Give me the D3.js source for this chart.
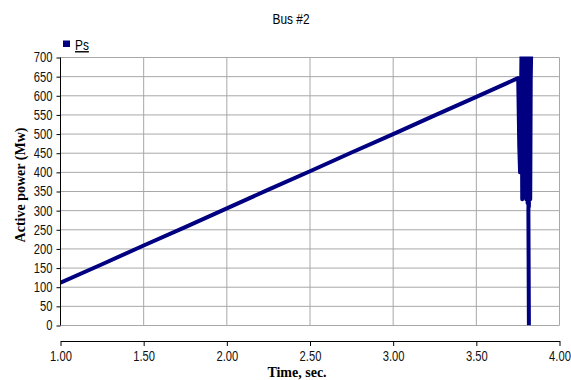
<!DOCTYPE html>
<html>
<head>
<meta charset="utf-8">
<script src="https://cdn.jsdelivr.net/npm/d3@7"></script>
<style>
  body { margin: 0; background: #fff; }
  .tick text { font-family: "Liberation Sans", Arial, sans-serif; font-size: 14px; fill: #111; }
</style>
</head>
<body>
<svg width="571" height="380"></svg>
<script>
let svg = d3.select("svg");
let squeeze = 0.8; // the source uses a narrow sans for its labels

// Ps signal, time in seconds, active power in MW
let time = [1.00, 1.25, 1.50, 1.75, 2.00, 2.25, 2.50, 2.75, 3.00, 3.25, 3.50, 3.75,
  3.752, 3.758, 3.763, 3.768, 3.772, 3.776, 3.780, 3.784, 3.788, 3.792, 3.796, 3.800,
  3.804, 3.808, 3.812, 3.816, 3.820, 3.824, 3.828, 3.830, 3.813, 3.816];
let power = [112, 160, 209, 257, 306, 355, 403, 452, 500, 549, 597, 646,
  640, 470, 400, 560, 740, 330, 745, 420, 750, 380, 750, 330,
  750, 320, 750, 310, 750, 330, 750, 720, 300, 0];

let xTicks = [1.0, 1.5, 2.0, 2.5, 3.0, 3.5, 4.0];
let yTicks = [0, 50, 100, 150, 200, 250, 300, 350, 400, 450, 500, 550, 600, 650, 700];

let x = d3.scaleLinear().domain([1, 4]).range([60.5, 559.5]);
let y = d3.scaleLinear().domain([0, 700]).range([325.5, 57.5]);

// grid
svg.append("g")
  .selectAll("line")
  .data(yTicks)
  .enter()
  .append("line")
  .attr("x1", x(1))
  .attr("x2", x(4))
  .attr("y1", d => y(d))
  .attr("y2", d => y(d))
  .attr("stroke", "#a8a8a8")
  .attr("stroke-width", 1);

svg.append("g")
  .selectAll("line")
  .data(xTicks.slice(1))
  .enter()
  .append("line")
  .attr("x1", d => x(d))
  .attr("x2", d => x(d))
  .attr("y1", y(0))
  .attr("y2", y(700))
  .attr("stroke", "#a8a8a8")
  .attr("stroke-width", 1);

// series
svg.append("clipPath")
  .attr("id", "plot")
  .append("rect")
  .attr("x", x(1))
  .attr("y", y(700) - 1)
  .attr("width", x(4) - x(1))
  .attr("height", y(0) - y(700) + 1);

let pts = time.map((t, i) => [t, power[i]]);
svg.append("path")
  .datum(pts)
  .attr("clip-path", "url(#plot)")
  .attr("fill", "none")
  .attr("stroke", "#000080")
  .attr("stroke-width", 4)
  .attr("stroke-linejoin", "round")
  .attr("d", d3.line().x(d => x(d[0])).y(d => y(d[1])));

// axes
svg.append("g")
  .attr("transform", "translate(" + x(1) + ",0)")
  .call(d3.axisLeft(y).tickValues(yTicks).tickSize(4).tickPadding(4).tickFormat(d3.format("d")))
  .call(g => g.select(".domain").attr("d", "M0," + y(700) + "V" + y(0)))
  .call(g => g.selectAll(".tick text").attr("x", -8 / squeeze).attr("transform", "scale(" + squeeze + ",1)"));

svg.append("g")
  .attr("transform", "translate(0,341)")
  .call(d3.axisBottom(x).tickValues(xTicks).tickSize(5).tickSizeOuter(0).tickPadding(5).tickFormat(d3.format(".2f")))
  .call(g => g.selectAll(".tick text").attr("transform", "scale(" + squeeze + ",1)"));

// texts
svg.append("text")
  .attr("transform", "translate(291,24) scale(0.85,1)")
  .attr("text-anchor", "middle")
  .style("font-family", "'Liberation Sans', Arial, sans-serif")
  .style("font-size", "14px")
  .text("Bus #2");

svg.append("text")
  .attr("x", 297)
  .attr("y", 377)
  .attr("text-anchor", "middle")
  .style("font-family", "'Liberation Serif', 'Times New Roman', serif")
  .style("font-weight", "bold")
  .style("font-size", "14px")
  .text("Time, sec.");

svg.append("text")
  .attr("transform", "translate(25,185) rotate(-90)")
  .attr("text-anchor", "middle")
  .style("font-family", "'Liberation Serif', 'Times New Roman', serif")
  .style("font-weight", "bold")
  .style("font-size", "14px")
  .text("Active power (Mw)");

// legend
svg.append("rect")
  .attr("x", 63)
  .attr("y", 40.5)
  .attr("width", 7)
  .attr("height", 6.5)
  .attr("fill", "#000080");

svg.append("text")
  .attr("transform", "translate(75,50) scale(0.85,1)")
  .style("font-family", "'Liberation Sans', Arial, sans-serif")
  .style("font-size", "14px")
  .style("text-decoration", "underline")
  .text("Ps");
</script>
</body>
</html>
